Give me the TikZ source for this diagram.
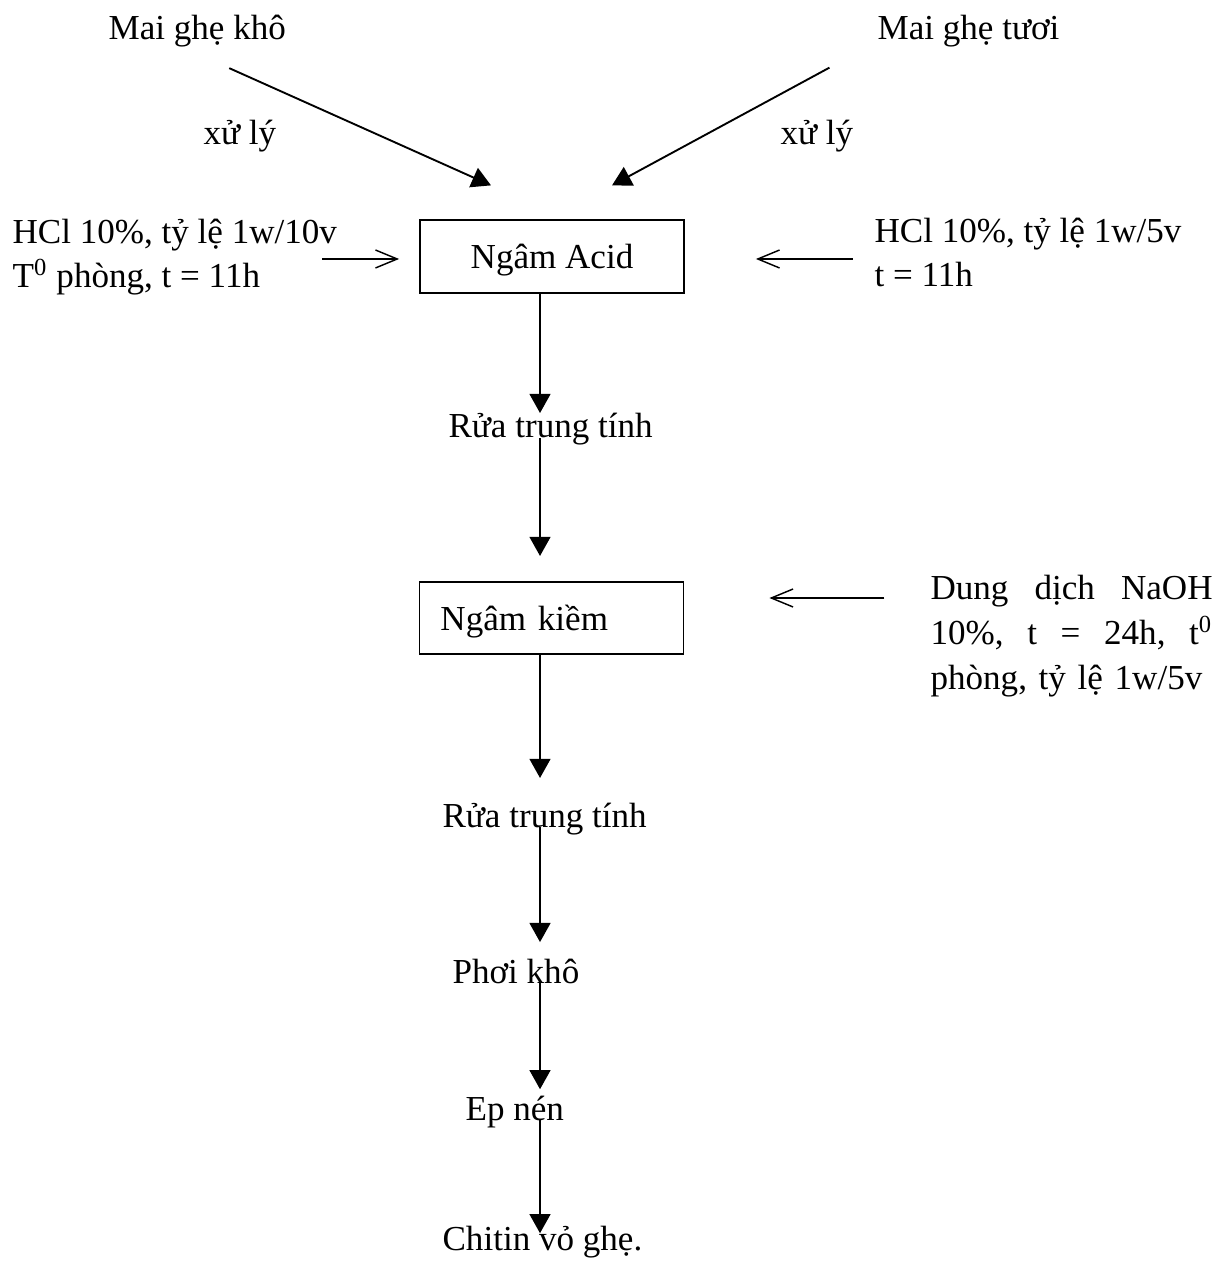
\documentclass[tikz,border=0pt]{standalone}
\usepackage{fontspec}
\setmainfont{Liberation Serif}
\usetikzlibrary{arrows.meta,calc}

\begin{document}
\begin{tikzpicture}[x=0.345pt, y=-0.345pt, font=\fontsize{12.1}{15.5}\selectfont,
  lbl/.style={inner sep=0pt, anchor=base west},
  box/.style={draw, line width=0.6pt, minimum width=91.1pt, minimum height=25pt, inner sep=0pt, text depth=0pt},
  flow/.style={-{Triangle[length=6.6pt,width=7.2pt]}, line width=0.65pt},
  feed/.style={-{Straight Barb[length=7.5pt,width=6.2pt]}, line width=0.5pt}]
\useasboundingbox (0,0) rectangle (1226,1262);
\coordinate (col) at (540,0);
% nguyen lieu
\node[lbl] (kho) at (108,40) {Mai ghẹ khô};
\node[lbl] (tuoi) at (877,40) {Mai ghẹ tươi};
\node[lbl] (xlL) at (203,145) {xử lý};
\node[lbl] (xlR) at (780,145) {xử lý};
% ngam acid
\node[box] (acid) at (552,256.5) {Ngâm Acid};
\node[lbl, align=left] (hclL) at (12,288) {HCl 10\%, tỷ lệ 1w/10v\\T\textsuperscript{0} phòng, t = 11h};
\node[lbl, align=left] (hclR) at (874,287) {HCl 10\%, tỷ lệ 1w/5v\\t = 11h};
\draw[flow] ($(kho.south)+(32,20)$) -- ($(acid.north)+(-61,-34)$);
\draw[flow] ($(tuoi.south)+(-139,19.5)$) -- ($(acid.north)+(60,-34)$);
\draw[feed] ($(acid.west)+(-97,2.5)$) -- ($(acid.west)+(-20,2.5)$);
\draw[feed] ($(acid.east)+(168,2.5)$) -- ($(acid.east)+(71,2.5)$);
% ngam kiem
\node[lbl] (rua1) at (448,438) {Rửa trung tính};
\node[box, align=left, text width=76.6pt] (kiem) at (551.5,618) {Ngâm kiềm};
\node[lbl, align=left, text width=97.3pt] (naoh) at (930,600)
  {Dung\hfill dịch\hfill NaOH\\10\%,\hfill t\hfill =\hfill 24h,\hfill t\textsuperscript{0}\\phòng, tỷ lệ 1w/5v};
\draw[feed] ($(kiem.east)+(200,-20)$) -- ($(kiem.east)+(85,-20)$);
\draw[flow] (acid.south -| col) -- (rua1.north -| col);
\draw[flow, shorten >=8.6pt] (rua1.base -| col) -- (kiem.north -| col);
% thanh pham
\node[lbl] (rua2) at (442,827) {Rửa trung tính};
\node[lbl] (phoi) at (452,983) {Phơi khô};
\node[lbl] (ep) at (465,1120) {Ep nén};
\node[lbl] (chitin) at (442,1250) {Chitin vỏ ghẹ.};
\draw[flow, shorten >=8.3pt] (kiem.south -| col) -- (rua2.north -| col);
\draw[flow, shorten >=5.5pt] (rua2.base -| col) -- (phoi.north -| col);
\draw[flow, shorten >=2pt] (phoi.base -| col) -- (ep.north -| col);
\draw[flow, shorten >=-2.8pt] (ep.base -| col) -- (chitin.north -| col);
\end{tikzpicture}
\end{document}
